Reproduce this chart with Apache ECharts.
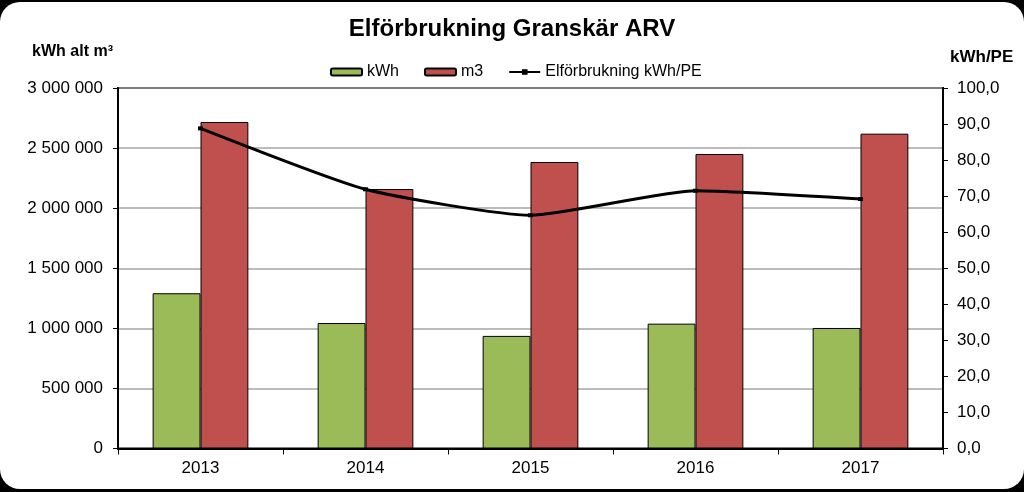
<!DOCTYPE html>
<html>
<head>
<meta charset="utf-8">
<script src="https://cdn.jsdelivr.net/npm/echarts@6/dist/echarts.min.js"></script>
<style>
  html, body { margin: 0; padding: 0; background: #000; }
  #frame { position: absolute; left: 0; top: 2px; width: 1024px; height: 487px; background: #fff; border-radius: 20px; overflow: hidden; }
  #main { position: absolute; left: 0; top: -2px; width: 1024px; height: 492px; }
</style>
</head>
<body>
<div id="frame"><div id="main"></div></div>
<script>
// values
var years = ['2013', '2014', '2015', '2016', '2017'];
var kwh = [1292000, 1044000, 937000, 1039000, 1003000];
var m3 = [2717000, 2159000, 2384000, 2451000, 2620000];
var kwhPerPE = [88.8, 71.9, 64.7, 71.5, 69.2];

var font = '"Liberation Sans", Arial, sans-serif';

function spaced(v) {
  return String(v).replace(/\B(?=(\d{3})+(?!\d))/g, ' ');
}

var myChart = echarts.init(document.getElementById('main'));
myChart.setOption({
  animation: false,
  textStyle: { fontFamily: font, color: '#000' },
  title: {
    text: 'Elförbrukning Granskär ARV',
    left: 'center',
    top: 12,
    textStyle: { fontFamily: font, fontSize: 24, fontWeight: 'bold', color: '#000' }
  },
  legend: {
    top: 59,
    left: 325,
    itemGap: 25,
    itemWidth: 31,
    itemHeight: 7,
    textStyle: { fontFamily: font, fontSize: 16, color: '#000' },
    data: [
      { name: 'kWh' },
      { name: 'm3' },
      { name: 'Elförbrukning kWh/PE' }
    ]
  },
  grid: {
    left: 118, right: 81, top: 88, bottom: 43.5,
    show: true, borderColor: '#000', borderWidth: 2
  },
  xAxis: {
    type: 'category',
    data: years,
    axisLine: { lineStyle: { color: '#000', width: 2 } },
    axisTick: { show: true, length: 6, lineStyle: { color: '#000', width: 1 } },
    axisLabel: { fontSize: 17, color: '#000', margin: 11 }
  },
  yAxis: [
    {
      type: 'value',
      min: 0, max: 3000000, interval: 500000,
      name: 'kWh alt m³',
      nameLocation: 'end',
      nameGap: 28,
      nameTextStyle: { fontFamily: font, fontSize: 16, fontWeight: 'bold', align: 'right', color: '#000', padding: [0, 5, 0, 0] },
      axisLine: { show: true, lineStyle: { color: '#000', width: 2 } },
      axisTick: { show: true, length: 5, lineStyle: { color: '#000' } },
      axisLabel: { fontSize: 17, color: '#000', margin: 15, formatter: spaced },
      splitLine: { lineStyle: { color: '#a6a6a6', width: 1.5 } }
    },
    {
      type: 'value',
      min: 0, max: 100, interval: 10,
      name: 'kWh/PE',
      nameLocation: 'end',
      nameGap: 22,
      nameTextStyle: { fontFamily: font, fontSize: 17, fontWeight: 'bold', align: 'left', color: '#000', padding: [0, 0, 0, 7] },
      axisLine: { show: true, lineStyle: { color: '#000', width: 2 } },
      axisTick: { show: true, length: 5, lineStyle: { color: '#000' } },
      axisLabel: { fontSize: 17, color: '#000', margin: 14, formatter: function (v) { return v.toFixed(1).replace('.', ','); } },
      splitLine: { show: false }
    }
  ],
  series: [
    {
      name: 'kWh',
      type: 'bar',
      data: kwh,
      barGap: '0%',
      barCategoryGap: '42%',
      itemStyle: { color: '#9bbb59', borderColor: '#000', borderWidth: 1 }
    },
    {
      name: 'm3',
      type: 'bar',
      data: m3,
      itemStyle: { color: '#c0504d', borderColor: '#000', borderWidth: 1 }
    },
    {
      name: 'Elförbrukning kWh/PE',
      type: 'line',
      yAxisIndex: 1,
      data: kwhPerPE,
      smooth: 0.18,
      symbol: 'rect',
      symbolSize: [5, 4],
      itemStyle: { color: '#000' },
      lineStyle: { color: '#000', width: 3 },
      z: 5
    }
  ]
});
</script>
</body>
</html>
